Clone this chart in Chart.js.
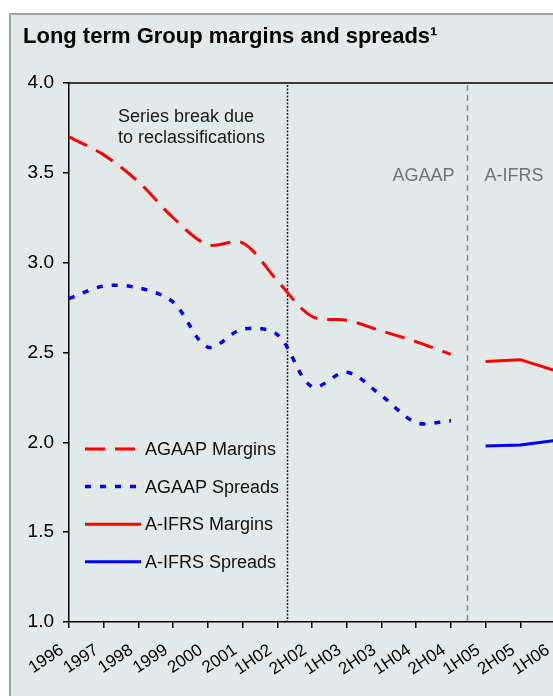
<!DOCTYPE html>
<html>
<head>
<meta charset="utf-8">
<script src="https://cdn.jsdelivr.net/npm/chart.js@4/dist/chart.umd.min.js"></script>
<style>
  html, body { margin: 0; padding: 0; overflow: hidden; background: #ffffff; width: 553px; height: 696px; }
  #frame { position: absolute; left: 9px; top: 13px; width: 560px; height: 700px;
           border-left: 2px solid #a3a3a3; border-top: 2px solid #a3a3a3; background: #e3e8e8; }
  #c { position: absolute; left: 0; top: 0; }
</style>
</head>
<body>
<div id="frame"><canvas id="c" width="544" height="681"></canvas></div>
<script>
const categories = ['1996','1997','1998','1999','2000','2001','1H02','2H02','1H03','2H03','1H04','2H04','1H05','2H05','1H06'];
const agaapMargins = [3.70, 3.60, 3.45, 3.25, 3.10, 3.11, 2.90, 2.70, 2.68, 2.62, 2.56, 2.49, null, null, null];
const agaapSpreads = [2.80, 2.87, 2.86, 2.78, 2.53, 2.63, 2.60, 2.31, 2.39, 2.26, 2.11, 2.12, null, null, null];
const aifrsMargins = [null, null, null, null, null, null, null, null, null, null, null, null, 2.45, 2.46, 2.40];
const aifrsSpreads = [null, null, null, null, null, null, null, null, null, null, null, null, 1.98, 1.985, 2.01];
const yTickValues = [1.0, 1.5, 2.0, 2.5, 3.0, 3.5, 4.0];
const seriesNames = ['AGAAP Margins', 'AGAAP Spreads', 'A-IFRS Margins', 'A-IFRS Spreads'];
const titleText = 'Long term Group margins and spreads\u00B9';
const breakNote = ['Series break due', 'to reclassifications'];
const regimeLabels = ['AGAAP', 'A-IFRS'];

const FONT = "'Liberation Sans', Arial, sans-serif";

const annotations = {
  id: 'annotations',
  beforeDatasetsDraw(chart) {
    const ctx = chart.ctx, a = chart.chartArea, x = chart.scales.x;
    ctx.save();
    // top border of plot area
    ctx.strokeStyle = '#000'; ctx.lineWidth = 1.5;
    ctx.beginPath(); ctx.moveTo(a.left, a.top); ctx.lineTo(a.right + 20, a.top); ctx.stroke();
    // series break (dotted)
    const xb = Math.round(x.getPixelForValue(6.28)) + 0.5;
    ctx.setLineDash([2, 1.5]); ctx.lineWidth = 1.5; ctx.strokeStyle = '#222';
    ctx.beginPath(); ctx.moveTo(xb, a.top + 2); ctx.lineTo(xb, a.bottom); ctx.stroke();
    // AGAAP / A-IFRS divider (dashed)
    const xd = Math.round(x.getPixelForValue(11.47)) + 0.5;
    ctx.setLineDash([6, 4]); ctx.lineWidth = 1.5; ctx.strokeStyle = '#8c8c8c';
    ctx.beginPath(); ctx.moveTo(xd, a.top + 2); ctx.lineTo(xd, a.bottom); ctx.stroke();
    ctx.setLineDash([]);
    // texts
    ctx.font = '18px ' + FONT;
    ctx.textBaseline = 'middle';
    ctx.fillStyle = '#1a1a1a'; ctx.textAlign = 'left';
    const xt = a.left + 49;
    ctx.fillText(breakNote[0], xt, a.top + 34);
    ctx.fillText(breakNote[1], xt, a.top + 55);
    ctx.fillStyle = '#6f7575';
    ctx.textAlign = 'right'; ctx.fillText(regimeLabels[0], xd - 13, a.top + 93);
    ctx.textAlign = 'left'; ctx.fillText(regimeLabels[1], xd + 17, a.top + 93);
    ctx.restore();
  },
  afterDatasetsDraw(chart) {
    // legend inside plot area
    const ctx = chart.ctx, a = chart.chartArea;
    ctx.save();
    ctx.font = '18px ' + FONT;
    ctx.textBaseline = 'middle'; ctx.textAlign = 'left'; ctx.fillStyle = '#111';
    chart.data.datasets.forEach((ds, i) => {
      const y = a.top + 366 + i * 37.6;
      ctx.strokeStyle = ds.borderColor; ctx.lineWidth = ds.borderWidth;
      ctx.setLineDash(ds.borderDash || []);
      ctx.lineCap = 'butt';
      ctx.beginPath(); ctx.moveTo(a.left + 16, y); ctx.lineTo(a.left + 72, y); ctx.stroke();
      ctx.setLineDash([]);
      ctx.fillText(ds.label, a.left + 76, y + 1);
    });
    ctx.restore();
  }
};

new Chart(document.getElementById('c'), {
  type: 'line',
  data: {
    labels: categories,
    datasets: [
      { label: seriesNames[0], data: agaapMargins, borderColor: '#ff0000', borderWidth: 3, borderDash: [20, 10], tension: 0.33, pointRadius: 0 },
      { label: seriesNames[1], data: agaapSpreads, borderColor: '#0000ff', borderWidth: 3.5, borderDash: [6, 9], tension: 0.33, pointRadius: 0 },
      { label: seriesNames[2], data: aifrsMargins, borderColor: '#ff0000', borderWidth: 3, tension: 0, pointRadius: 0 },
      { label: seriesNames[3], data: aifrsSpreads, borderColor: '#0000ff', borderWidth: 3, tension: 0, pointRadius: 0 }
    ]
  },
  options: {
    responsive: false,
    animation: false,
    devicePixelRatio: 1,
    layout: { padding: { left: 12, right: 0, top: 0, bottom: 0 } },
    plugins: {
      legend: { display: false },
      tooltip: { enabled: false },
      title: {
        display: true, text: titleText, align: 'start', color: '#000',
        font: { family: FONT, size: 22, weight: 'bold', lineHeight: 1.2 },
        padding: { top: 8.8, bottom: 32.8 }
      }
    },
    scales: {
      x: {
        offset: false,
        grid: { display: true, drawOnChartArea: false, drawTicks: true, tickLength: 6, color: '#000', lineWidth: 1.5 },
        border: { display: true, color: '#000', width: 1.5 },
        ticks: { autoSkip: false, minRotation: 34, maxRotation: 34, color: '#000', padding: 12, labelOffset: -7,
                 font: { family: FONT, size: 17 } },
        afterFit(s) { s.height = 74; s.paddingLeft = 0; s.paddingRight = 0; }
      },
      y: {
        min: 1, max: 4,
        afterBuildTicks(s) { s.ticks = yTickValues.map(v => ({ value: v })); },
        grid: { display: true, drawOnChartArea: false, drawTicks: true, tickLength: 6, color: '#000', lineWidth: 1.5 },
        border: { display: true, color: '#000', width: 1.5 },
        ticks: { color: '#000', padding: 9, font: { family: FONT, size: 19 }, callback: v => Number(v).toFixed(1) },
        afterFit(s) { s.width = 46; s.paddingTop = 0; s.paddingBottom = 0; }
      }
    }
  },
  plugins: [annotations]
});
</script>
</body>
</html>
